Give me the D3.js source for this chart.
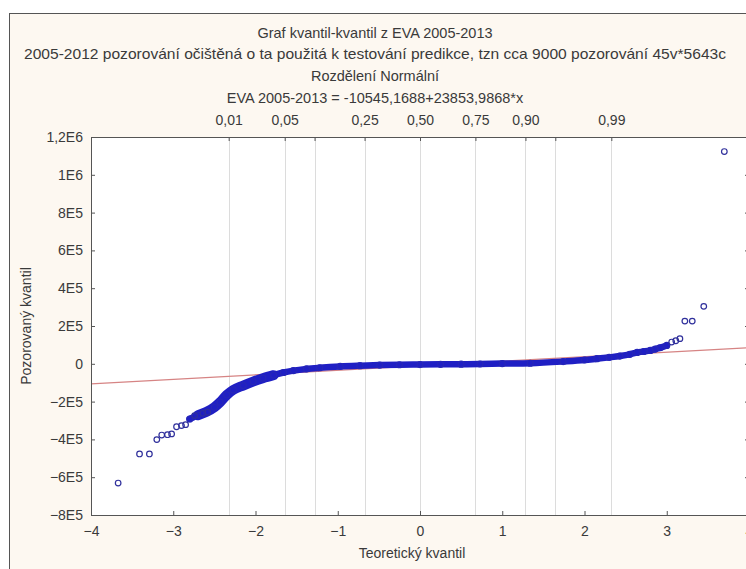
<!DOCTYPE html>
<html>
<head>
<meta charset="utf-8">
<script src="https://cdn.jsdelivr.net/npm/d3@7"></script>
<style>
  html, body { margin: 0; padding: 0; background: #fff; }
  svg { display: block; font-family: "Liberation Sans", Arial, sans-serif; }
</style>
</head>
<body>
<div id="chart"></div>
<script>
// titulky grafu
const titleLines = [
  "Graf kvantil-kvantil z EVA 2005-2013",
  "2005-2012 pozorování očištěná o ta použitá k testování predikce, tzn cca 9000 pozorování 45v*5643c",
  "Rozdělení Normální",
  "EVA 2005-2013 = -10545,1688+23853,9868*x"
];
const xTitle = "Teoretický kvantil";
const yTitle = "Pozorovaný kvantil";

// osy
const xTicks = [-4, -3, -2, -1, 0, 1, 2, 3, 4];
const yTicks = [-8e5, -6e5, -4e5, -2e5, 0, 2e5, 4e5, 6e5, 8e5, 1e6, 1.2e6];

// kvantily normálního rozdělení (svislé čáry), popisky jen u některých
const quantZ = [-2.326, -1.645, -1.282, -0.674, 0, 0.674, 1.282, 1.645, 2.326];
const quantLabel = ["0,01", "0,05", "", "0,25", "0,50", "0,75", "0,90", "", "0,99"];

// přímka: EVA = a + b*x
const lineA = -10545.1688;
const lineB = 23853.9868;

// hustý pás bodů
const bandX = [-2.80, -2.70, -2.60, -2.50, -2.43, -2.35, -2.27, -2.15, -2.03, -1.91, -1.78, -1.66, -1.54, -1.38, -1.22,
  -0.97, -0.73, -0.49, -0.25, 0, 0.25, 0.50, 0.73, 1.00, 1.34, 1.74, 2.00, 2.15, 2.30, 2.43, 2.55, 2.64, 2.72, 2.80,
  2.86, 2.92, 3.00];
const bandY = [-292000, -272000, -255000, -230000, -203000, -165000, -138000, -115000, -94000, -76000, -60000, -46000,
  -36000, -27000, -21000, -14000, -10000, -7000, -5000, -4000, -3000, -2000, -1000, 1000, 3000, 12000, 20000, 27000,
  34000, 41000, 50000, 60000, 65000, 71000, 78000, 85000, 97000];

// odlehlé body na koncích
const tailX = [-3.67, -3.41, -3.29, -3.20, -3.14, -3.07, -3.02, -2.96, -2.90, -2.85, -2.74, -2.64, -2.58,
  3.06, 3.11, 3.16, 3.22, 3.31, 3.45, 3.70];
const tailY = [-631000, -477000, -477000, -401000, -377000, -375000, -371000, -333000, -327000, -322000, -274000,
  -262000, -256000, 115000, 122000, 133000, 226000, 226000, 304000, 1123000];

const W = 746, H = 569;
const pLeft = 91, pRight = 749, pTop = 137, pBottom = 515;
const fontSize = 14;

const svg = d3.select("#chart").append("svg")
  .attr("width", W).attr("height", H);

// rámeček okna
svg.append("rect")
  .attr("x", 9.5).attr("y", 13.5)
  .attr("width", W + 20).attr("height", H + 20)
  .attr("fill", "#fdf8f1")
  .attr("stroke", "#555");

const x = d3.scaleLinear().domain([-4, 4]).range([pLeft, pRight]);
const y = d3.scaleLinear().domain([-8e5, 1.2e6]).range([pBottom, pTop]);

// plocha grafu
svg.append("rect")
  .attr("x", pLeft).attr("y", pTop)
  .attr("width", pRight - pLeft).attr("height", pBottom - pTop)
  .attr("fill", "#fff");

svg.append("defs").append("clipPath").attr("id", "clip")
  .append("rect")
  .attr("x", pLeft).attr("y", pTop)
  .attr("width", pRight - pLeft).attr("height", pBottom - pTop);

// svislé čáry kvantilů
svg.append("g")
  .selectAll("line")
  .data(quantZ)
  .join("line")
  .attr("x1", d => Math.round(x(d)) + 0.5).attr("x2", d => Math.round(x(d)) + 0.5)
  .attr("y1", pTop).attr("y2", pBottom)
  .attr("stroke", "#dcdcdc");

const plot = svg.append("g").attr("clip-path", "url(#clip)");

// červená přímka
plot.append("line")
  .attr("x1", x(-4)).attr("y1", y(lineA + lineB * -4))
  .attr("x2", x(4)).attr("y2", y(lineA + lineB * 4))
  .attr("stroke", "#d68484")
  .attr("stroke-width", 1.2);

// pás bodů
const band = bandX.map((d, i) => [d, bandY[i]]);
const bandLine = d3.line().x(d => x(d[0])).y(d => y(d[1])).curve(d3.curveMonotoneX);
plot.append("path")
  .datum(band)
  .attr("d", bandLine)
  .attr("fill", "none")
  .attr("stroke", "#1f1fc4")
  .attr("stroke-width", 6.5)
  .attr("stroke-linecap", "round");

// strmá část pásu je v originále širší
plot.append("path")
  .datum(band.filter(d => d[0] >= -2.72 && d[0] <= -1.75))
  .attr("d", bandLine)
  .attr("fill", "none")
  .attr("stroke", "#1f1fc4")
  .attr("stroke-width", 10)
  .attr("stroke-linecap", "round");

plot.append("g")
  .selectAll("circle")
  .data(band)
  .join("circle")
  .attr("cx", d => x(d[0])).attr("cy", d => y(d[1]))
  .attr("r", 3)
  .attr("fill", "none")
  .attr("stroke", "#2626b8")
  .attr("stroke-width", 1.2);

const tail = tailX.map((d, i) => [d, tailY[i]]);
plot.append("g")
  .selectAll("circle")
  .data(tail)
  .join("circle")
  .attr("cx", d => x(d[0])).attr("cy", d => y(d[1]))
  .attr("r", 2.8)
  .attr("fill", "none")
  .attr("stroke", "#30309c")
  .attr("stroke-width", 1.2);

// formát 1,2E6
const fmtY = d => d === 0 ? "0" :
  d3.format(".2~e")(d).replace("e+", "E").replace("e-", "E-").replace(".", ",");

const axisColor = "#555";
const textColor = "#3a3a3a";

const gx = svg.append("g")
  .attr("transform", `translate(0,${pBottom})`)
  .call(d3.axisBottom(x).tickValues(xTicks).tickSizeInner(-4).tickSizeOuter(0).tickPadding(11)
    .tickFormat(d3.format("d")));
const gy = svg.append("g")
  .attr("transform", `translate(${pLeft},0)`)
  .call(d3.axisLeft(y).tickValues(yTicks).tickSizeInner(-4).tickSizeOuter(0).tickPadding(8)
    .tickFormat(fmtY));
const gr = svg.append("g")
  .attr("transform", `translate(${pRight},0)`)
  .call(d3.axisRight(y).tickValues(yTicks).tickSizeInner(-4).tickSizeOuter(0).tickFormat(""));
const gt = svg.append("g")
  .attr("transform", `translate(0,${pTop})`)
  .call(d3.axisTop(x).tickValues(quantZ).tickSizeInner(-4).tickSizeOuter(0).tickPadding(12)
    .tickFormat((d, i) => quantLabel[i]));

[gx, gy, gr, gt].forEach(g => {
  g.select(".domain").remove();
  g.selectAll(".tick line").attr("stroke", axisColor);
  g.selectAll(".tick text")
    .attr("fill", textColor)
    .attr("font-size", fontSize)
    .attr("font-family", "Liberation Sans, Arial, sans-serif");
});

// okraj plochy grafu
svg.append("rect")
  .attr("x", pLeft + 0.5).attr("y", pTop + 0.5)
  .attr("width", pRight - pLeft).attr("height", pBottom - pTop)
  .attr("fill", "none")
  .attr("stroke", axisColor);

// titulky
const titleY = [38, 59, 81, 103];
svg.append("g")
  .selectAll("text")
  .data(titleLines)
  .join("text")
  .attr("x", 375)
  .attr("y", (d, i) => titleY[i])
  .attr("text-anchor", "middle")
  .attr("font-size", 14.5)
  .attr("fill", textColor)
  .each(function(d, i) {
    // druhý řádek je v originále roztažený přes celou šířku
    if (i === 1) d3.select(this).attr("textLength", 702).attr("lengthAdjust", "spacingAndGlyphs");
  })
  .text(d => d);

svg.append("text")
  .attr("x", (pLeft + pRight) / 2 - 8)
  .attr("y", 558)
  .attr("text-anchor", "middle")
  .attr("font-size", 14)
  .attr("fill", textColor)
  .text(xTitle);

svg.append("text")
  .attr("transform", `translate(31,${(pTop + pBottom) / 2}) rotate(-90)`)
  .attr("text-anchor", "middle")
  .attr("font-size", 14)
  .attr("fill", textColor)
  .text(yTitle);
</script>
</body>
</html>
